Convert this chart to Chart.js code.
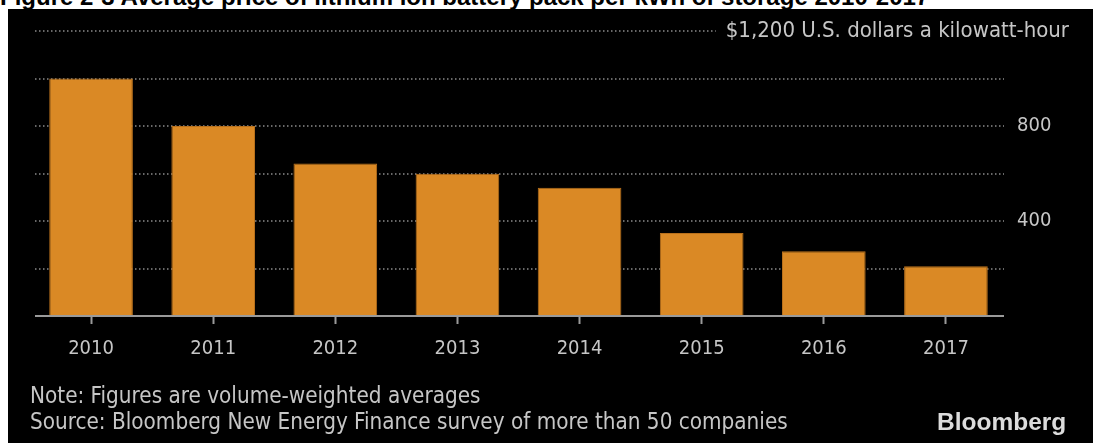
<!DOCTYPE html>
<html>
<head>
<meta charset="utf-8">
<script src="https://cdn.jsdelivr.net/npm/chart.js@4.4.1/dist/chart.umd.min.js"></script>
<style>
  html, body { margin: 0; padding: 0; background: #fff; }
  #wrap { position: relative; width: 1093px; height: 443px; overflow: hidden; }
  #title { position: absolute; left: 0; top: 0; width: 1093px; height: 9px; overflow: hidden; }
  #title span { position: absolute; left: 0; top: -17px; white-space: nowrap;
    font: bold 24px "Liberation Sans", Arial, sans-serif; color: #000; }
  #panel { position: absolute; left: 8px; top: 9px; width: 1085px; height: 434px; background: #000; }
  canvas { position: absolute; left: 0; top: 0; }
  .foot { position: absolute; left: 30px; white-space: nowrap; color: #c6c6c6;
    font: 22.3px "DejaVu Sans Condensed", "DejaVu Sans", sans-serif; font-stretch: condensed; }
  #brand { position: absolute; left: 937px; top: 408px; white-space: nowrap; color: #dcdcdc;
    font: bold 24.5px "Liberation Sans", Arial, sans-serif; }
</style>
</head>
<body>
<div id="wrap">
  <div id="title"><span>Figure 2-3 Average price of lithium ion battery pack per kWh of storage 2010-2017</span></div>
  <div id="panel"></div>
  <canvas id="c" width="1093" height="443"></canvas>
  <div class="foot" style="top:382px">Note: Figures are volume-weighted averages</div>
  <div class="foot" style="top:408px">Source: Bloomberg New Energy Finance survey of more than 50 companies</div>
  <div id="brand">Bloomberg</div>
</div>
<script>
// Average lithium-ion pack price, US$ per kWh
const years = ['2010', '2011', '2012', '2013', '2014', '2015', '2016', '2017'];
const prices = [1000, 800, 642, 599, 540, 350, 273, 209];
const labeledTicks = [400, 800];
const topTick = 1200;
const unitLabel = '$1,200 U.S. dollars a kilowatt-hour';

const FONT = '"DejaVu Sans Condensed", "DejaVu Sans", sans-serif';
const TEXT = '#c6c6c6';
const GRID = '#8a8a8a';
const AXIS = '#9a9a9a';
const GRID_LEFT = 35, GRID_RIGHT = 1004, UNIT_RIGHT = 1069;

// Dotted gridlines, the unit label on the top line, and the baseline
const frame = {
  id: 'frame',
  beforeDatasetsDraw(chart) {
    const { ctx, scales } = chart;
    const ys = scales.y;
    ctx.save();
    ctx.strokeStyle = GRID;
    ctx.lineWidth = 1.5;
    ctx.setLineDash([1.5, 2.5]);
    ctx.font = '22px ' + FONT;
    const w = ctx.measureText(unitLabel).width;
    ys.ticks.forEach(t => {
      if (t.value === 0) return;
      const y = Math.round(ys.getPixelForValue(t.value));
      const right = t.value === topTick ? UNIT_RIGHT - w - 10 : GRID_RIGHT;
      ctx.beginPath();
      ctx.moveTo(GRID_LEFT, y);
      ctx.lineTo(right, y);
      ctx.stroke();
    });
    ctx.setLineDash([]);
    ctx.fillStyle = TEXT;
    ctx.textAlign = 'right';
    ctx.textBaseline = 'middle';
    ctx.fillText(unitLabel, UNIT_RIGHT, ys.getPixelForValue(topTick));
    ctx.restore();
  },
  afterDatasetsDraw(chart) {
    const { ctx, scales } = chart;
    const y = scales.y.getPixelForValue(0);
    ctx.save();
    ctx.strokeStyle = AXIS;
    ctx.lineWidth = 2;
    ctx.beginPath();
    ctx.moveTo(GRID_LEFT, y);
    ctx.lineTo(GRID_RIGHT, y);
    ctx.stroke();
    ctx.restore();
  }
};

new Chart(document.getElementById('c'), {
  type: 'bar',
  data: {
    labels: years,
    datasets: [{
      data: prices,
      backgroundColor: '#da8925',
      borderColor: '#b8701c',
      borderWidth: 1,
      categoryPercentage: 1,
      barPercentage: 0.685
    }]
  },
  options: {
    responsive: false,
    animation: false,
    events: [],
    layout: { padding: { left: 30, top: 31, right: 0, bottom: 0 } },
    plugins: { legend: { display: false }, tooltip: { enabled: false } },
    scales: {
      x: {
        afterFit(s) { s.height = 127; },
        grid: {
          offset: false,
          drawOnChartArea: false,
          drawTicks: true,
          tickLength: 8,
          tickWidth: 2,
          tickColor: AXIS
        },
        border: { display: false },
        ticks: { color: TEXT, padding: 13, font: { family: FONT, size: 20 } }
      },
      y: {
        position: 'right',
        min: 0,
        max: topTick,
        afterFit(s) { s.width = 86; },
        border: { display: false },
        grid: { drawTicks: false, color: 'rgba(0,0,0,0)' },
        ticks: {
          stepSize: 200,
          padding: 10,
          color: TEXT,
          font: { family: FONT, size: 20 },
          callback: (v) => labeledTicks.includes(v) ? String(v) : ''
        }
      }
    }
  },
  plugins: [frame]
});
</script>
</body>
</html>
